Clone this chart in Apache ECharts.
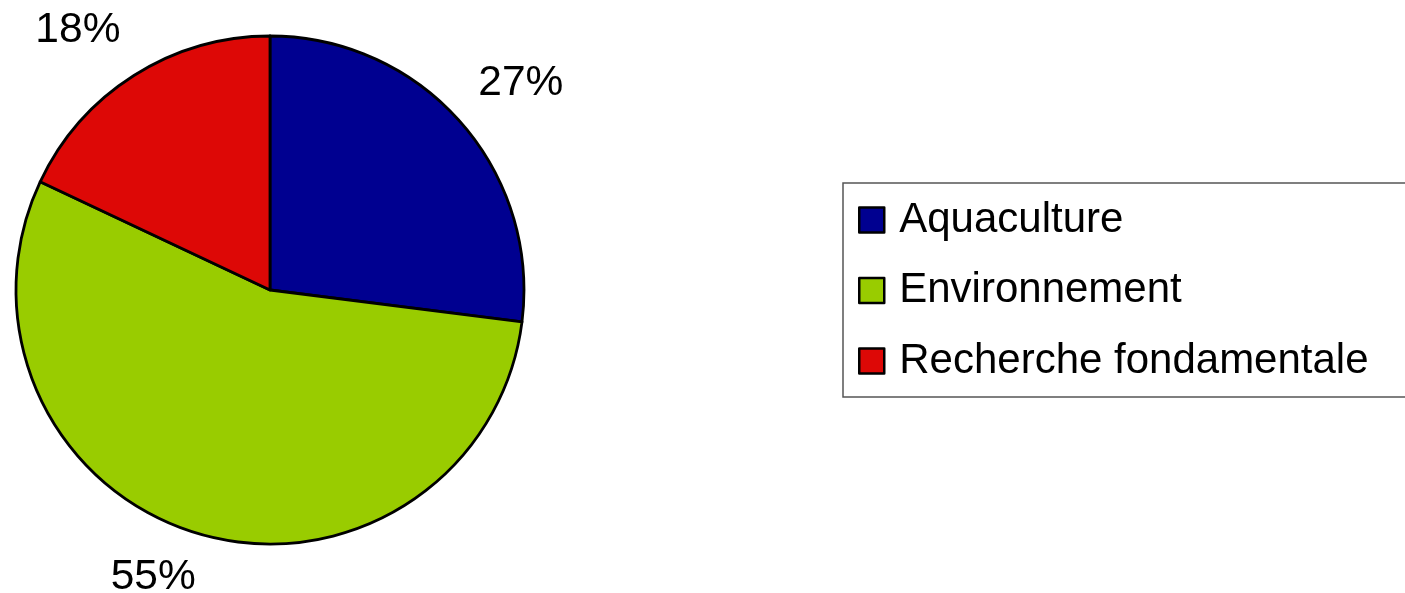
<!DOCTYPE html>
<html>
<head>
<meta charset="utf-8">
<script src="https://cdn.jsdelivr.net/npm/echarts@6/dist/echarts.min.js"></script>
<style>
html,body{margin:0;padding:0;background:#fff;}
#chart{width:1405px;height:593px;}
</style>
</head>
<body>
<div id="chart"></div>
<script>
var categories = ['Aquaculture', 'Environnement', 'Recherche fondamentale'];
var values = [27, 55, 18];
var colors = ['#000090', '#99cc00', '#dd0806'];
var labelOffsets = [[5.5, 10], [-25.6, -26.4], [-16.9, 16.3]];

var chart = echarts.init(document.getElementById('chart'), null, {renderer: 'canvas'});
var mainData = categories.map(function (c, i) {
  return {name: c, value: values[i], itemStyle: {color: colors[i]}};
});
var labelData = categories.map(function (c, i) {
  return {name: c, value: values[i], label: {offset: labelOffsets[i]}};
});
var font = '"Liberation Sans", Arial, sans-serif';
chart.setOption({
  animation: false,
  backgroundColor: '#ffffff',
  legend: {
    orient: 'vertical',
    left: 843,
    top: 183,
    data: categories,
    itemWidth: 25,
    itemHeight: 25,
    itemGap: 26.5,
    padding: [15, 60, 14, 15],
    borderColor: '#555',
    borderWidth: 1.5,
    selectedMode: false,
    icon: 'rect',
    itemStyle: {borderColor: '#000', borderWidth: 2.5},
    textStyle: {fontFamily: font, fontSize: 42, color: '#000', lineHeight: 44, padding: [0, 0, 0, 10]}
  },
  series: [
    {
      type: 'pie',
      center: [270, 290],
      radius: 254,
      startAngle: 90,
      clockwise: true,
      silent: true,
      label: {show: false},
      labelLine: {show: false},
      itemStyle: {borderColor: '#000', borderWidth: 2.8},
      data: mainData
    },
    {
      type: 'pie',
      center: [270, 290],
      radius: [304, 344],
      startAngle: 90,
      clockwise: true,
      silent: true,
      itemStyle: {color: 'rgba(0,0,0,0)', borderWidth: 0},
      label: {show: true, position: 'inside', formatter: '{c}%', color: '#000', fontFamily: font, fontSize: 42.5},
      labelLine: {show: false},
      emphasis: {disabled: true},
      data: labelData
    }
  ]
});
</script>
</body>
</html>
